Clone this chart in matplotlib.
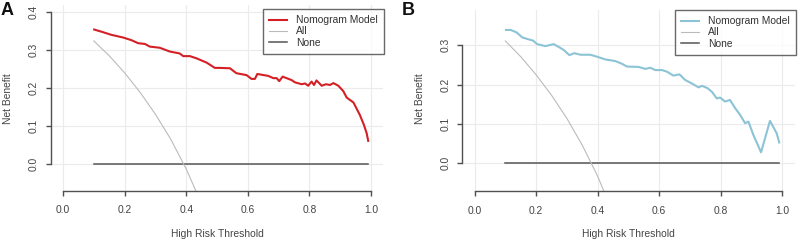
import matplotlib
matplotlib.use("Agg")
import matplotlib.pyplot as plt
from matplotlib.lines import Line2D

plt.rcParams['font.family'] = ['Liberation Sans', 'DejaVu Sans']

# ---------------- data ----------------
# Panel A
a_model_pt = [0.101, 0.130, 0.157, 0.195, 0.222, 0.244, 0.266, 0.282, 0.314, 0.347,
              0.379, 0.390, 0.412, 0.434, 0.466, 0.493, 0.509, 0.542, 0.563, 0.596,
              0.612, 0.623, 0.631, 0.666, 0.683, 0.694, 0.702, 0.713, 0.742, 0.753,
              0.775, 0.786, 0.796, 0.807, 0.815, 0.823, 0.840, 0.854, 0.867, 0.878,
              0.894, 0.910, 0.921, 0.943, 0.964, 0.977, 0.986, 0.991]
a_model_nb = [0.354, 0.347, 0.340, 0.333, 0.326, 0.318, 0.316, 0.309, 0.306, 0.296,
              0.291, 0.284, 0.284, 0.278, 0.267, 0.253, 0.253, 0.252, 0.239, 0.234,
              0.224, 0.224, 0.237, 0.232, 0.226, 0.226, 0.218, 0.230, 0.221, 0.215,
              0.210, 0.212, 0.206, 0.217, 0.208, 0.220, 0.206, 0.210, 0.208, 0.213,
              0.206, 0.192, 0.175, 0.162, 0.129, 0.103, 0.081, 0.061]
a_all_pt = [0.10, 0.15, 0.20, 0.25, 0.30, 0.35, 0.40, 0.45]
a_all_nb = [0.324, 0.285, 0.240, 0.189, 0.131, 0.065, -0.013, -0.105]

# Panel B
b_model_pt = [0.102, 0.117, 0.136, 0.155, 0.176, 0.190, 0.203, 0.230, 0.257, 0.273,
              0.290, 0.308, 0.324, 0.344, 0.376, 0.398, 0.425, 0.457, 0.479, 0.495,
              0.533, 0.555, 0.571, 0.587, 0.609, 0.625, 0.646, 0.666, 0.684, 0.706,
              0.728, 0.739, 0.757, 0.771, 0.787, 0.798, 0.814, 0.830, 0.847, 0.863,
              0.879, 0.890, 0.906, 0.931, 0.960, 0.982, 0.990]
b_model_nb = [0.339, 0.339, 0.333, 0.320, 0.315, 0.312, 0.303, 0.298, 0.303, 0.296,
              0.288, 0.275, 0.280, 0.276, 0.276, 0.271, 0.264, 0.260, 0.253, 0.246,
              0.245, 0.240, 0.243, 0.237, 0.237, 0.233, 0.223, 0.226, 0.212, 0.203,
              0.193, 0.197, 0.191, 0.182, 0.165, 0.167, 0.157, 0.161, 0.140, 0.123,
              0.102, 0.106, 0.072, 0.028, 0.108, 0.076, 0.053]
b_all_pt = [0.10, 0.15, 0.20, 0.25, 0.30, 0.35, 0.40, 0.45]
b_all_nb = [0.311, 0.271, 0.225, 0.173, 0.114, 0.046, -0.033, -0.127]

none_pt = [0.10, 0.99]
none_nb = [0.0, 0.0]

x_ticks = [0.0, 0.2, 0.4, 0.6, 0.8, 1.0]
a_y_ticks = [0.0, 0.1, 0.2, 0.3, 0.4]
b_y_ticks = [0.0, 0.1, 0.2, 0.3]
legend_labels = ["Nomogram Model", "All", "None"]
panel_labels = ["A", "B"]

# ---------------- layout ----------------
W, H = 800, 244
fig = plt.figure(figsize=(W / 100, H / 100), dpi=100)

AXC = '#505050'
TXT = '#444444'
FS = 7.4


def rect(l, r, b, t):
    return [l / W, 1 - b / H, (r - l) / W, (b - t) / H]


panels = [
    dict(rect=rect(50.7, 383.3, 190.5, 5.2), ylim=(-0.0697, 0.418), yt=a_y_ticks,
         mpt=a_model_pt, mnb=a_model_nb, apt=a_all_pt, anb=a_all_nb, col='#D42025',
         leg=(384, 9), lab=(1, 2), ylab=(8.5, 99), xlab=(217, 234)),
    dict(rect=rect(462.3, 794.6, 191, 9.9), ylim=(-0.0704, 0.39), yt=b_y_ticks,
         mpt=b_model_pt, mnb=b_model_nb, apt=b_all_pt, anb=b_all_nb, col='#8CC4D6',
         leg=(796, 10), lab=(402, 2), ylab=(420, 99), xlab=(628, 234)),
]

for i, p in enumerate(panels):
    ax = fig.add_axes(p['rect'])
    ax.set_xlim(-0.04, 1.04)
    ax.set_ylim(*p['ylim'])
    ax.set_xticks(x_ticks)
    ax.set_yticks(p['yt'])
    ax.set_xticklabels([f"{v:.1f}" for v in x_ticks])
    ax.set_yticklabels([f"{v:.1f}" for v in p['yt']], rotation=90, va='center')
    ax.grid(True, color='#EBEBEB', linewidth=0.8)
    ax.set_axisbelow(True)
    for s in ['top', 'right']:
        ax.spines[s].set_visible(False)
    ax.spines['left'].set_bounds(p['yt'][0], p['yt'][-1])
    ax.spines['bottom'].set_bounds(x_ticks[0], x_ticks[-1])
    for s in ['left', 'bottom']:
        ax.spines[s].set_color(AXC)
        ax.spines[s].set_linewidth(1.0)
    ax.tick_params(length=3.6, width=1.0, color=AXC, labelcolor=TXT, labelsize=FS, pad=5)
    ax.tick_params(axis='x', pad=7)

    ax.plot(none_pt, none_nb, color='#555555', lw=1.1, clip_on=True)
    ax.plot(p['apt'], p['anb'], color='#BBBBBB', lw=0.8)
    ax.plot(p['mpt'], p['mnb'], color=p['col'], lw=1.5)

    handles = [Line2D([], [], color=p['col'], lw=1.5),
               Line2D([], [], color='#BBBBBB', lw=0.8),
               Line2D([], [], color='#555555', lw=1.1)]
    lx, ly = p['leg']
    leg = ax.legend(handles, legend_labels, loc='upper right',
                    bbox_to_anchor=(lx / W, 1 - ly / H), bbox_transform=fig.transFigure,
                    fontsize=FS, frameon=True, fancybox=False, borderaxespad=0,
                    handlelength=1.8, handletextpad=0.85, borderpad=0.6,
                    labelspacing=0.12)
    leg.get_frame().set_edgecolor('#444444')
    leg.get_frame().set_linewidth(1.0)
    for t in leg.get_texts():
        t.set_color('#333333')

    fig.text(p['lab'][0] / W, 1 - p['lab'][1] / H, panel_labels[i], fontsize=13,
             fontweight='bold', ha='left', va='top', color='#111111')
    fig.text(p['ylab'][0] / W, 1 - p['ylab'][1] / H, "Net Benefit", rotation=90,
             fontsize=FS, ha='center', va='center', color=TXT)
    fig.text(p['xlab'][0] / W, 1 - p['xlab'][1] / H, "High Risk Threshold",
             fontsize=FS, ha='center', va='center', color=TXT)

fig.savefig("out.png", dpi=100)
